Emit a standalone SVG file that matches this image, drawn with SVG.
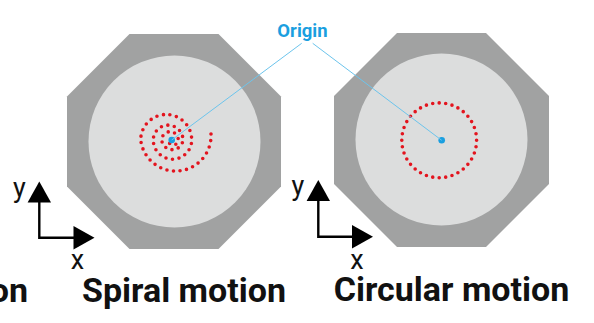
<svg xmlns="http://www.w3.org/2000/svg" width="594" height="323" viewBox="0 0 594 323">
<style>
.oct{fill:#a1a2a2}
.disc{fill:#dcdddd}
.dots{fill:none;stroke:#e3141e;stroke-width:3.6;stroke-linecap:round}
.org{fill:#1a9fe0}
.lead{stroke:#6cc4ec;stroke-width:1;fill:none}
.ax{stroke:#000;stroke-width:2.4;fill:none}
.ah{fill:#000}
.axl{font-family:Roboto,"Liberation Sans",sans-serif;font-size:27px;fill:#111;text-anchor:middle}
.title{font-family:Roboto,"Liberation Sans",sans-serif;font-weight:700;font-size:34px;fill:#111;text-anchor:middle}
.olab{font-family:Roboto,"Liberation Sans",sans-serif;font-weight:700;font-size:18.5px;fill:#1a9fe0;text-anchor:middle}
</style>
<rect width="594" height="323" fill="#fff"/>
<g id="spiral-wafer">
<polygon class="oct" points="129.5,34 218.5,34 281,96.5 281,186.5 218.5,249 129.5,249 67,186.5 67,96.5"/>
<circle class="disc" cx="174.5" cy="141.5" r="86"/>
<path class="dots" stroke-dasharray="0 6.6" d="M211,134 A35.3,35.3 0 0 1 140.7,140 A25.5,25.5 0 0 1 191.7,140 A19.2,19.2 0 0 1 153.3,140 A14.85,14.85 0 0 1 183,140 A10.7,10.7 0 0 1 161.7,140 A8.3,8.3 0 0 1 178.3,140 A5,5 0 0 1 168.3,140"/>
<circle class="org" cx="171.7" cy="140" r="3.3"/>
</g>
<g id="circular-wafer">
<polygon class="oct" points="397,33 486,33 549,96 549,184 486,247 397,247 334,184 334,96"/>
<circle class="disc" cx="441.5" cy="139.5" r="86"/>
<circle class="dots" cx="439.2" cy="140.3" r="37.4" pathLength="36" stroke-dasharray="0 1"/>
<circle class="org" cx="441.7" cy="140.3" r="3.3"/>
</g>
<g id="origin-label">
<text class="olab" x="302.5" y="36.5">Origin</text>
</g>
<g id="connectors">
<line class="lead" x1="301.7" y1="43.3" x2="171.7" y2="140"/>
<line class="lead" x1="312.7" y1="43.3" x2="441.7" y2="140.3"/>
</g>
<g id="axes-left">
<path class="ax" d="M39.3,201 V237.7 H74"/>
<polygon class="ah" points="39.3,181.5 51,202.5 27.6,202.5"/>
<polygon class="ah" points="94.5,237.7 73.5,226 73.5,249.5"/>
<text class="axl" x="19.5" y="197">y</text>
<text class="axl" x="77.5" y="269">x</text>
</g>
<g id="axes-right">
<path class="ax" d="M318.3,200 V236.7 H353"/>
<polygon class="ah" points="318.3,180 330,201 306.6,201"/>
<polygon class="ah" points="373,236.7 352,225 352,248.5"/>
<text class="axl" x="298" y="194.5">y</text>
<text class="axl" x="357" y="269">x</text>
</g>
<g id="titles">
<text class="title" x="28" y="302" style="text-anchor:end">on</text>
<text class="title" x="184" y="302">Spiral motion</text>
<text class="title" x="451.5" y="300.5">Circular motion</text>
</g>
</svg>
